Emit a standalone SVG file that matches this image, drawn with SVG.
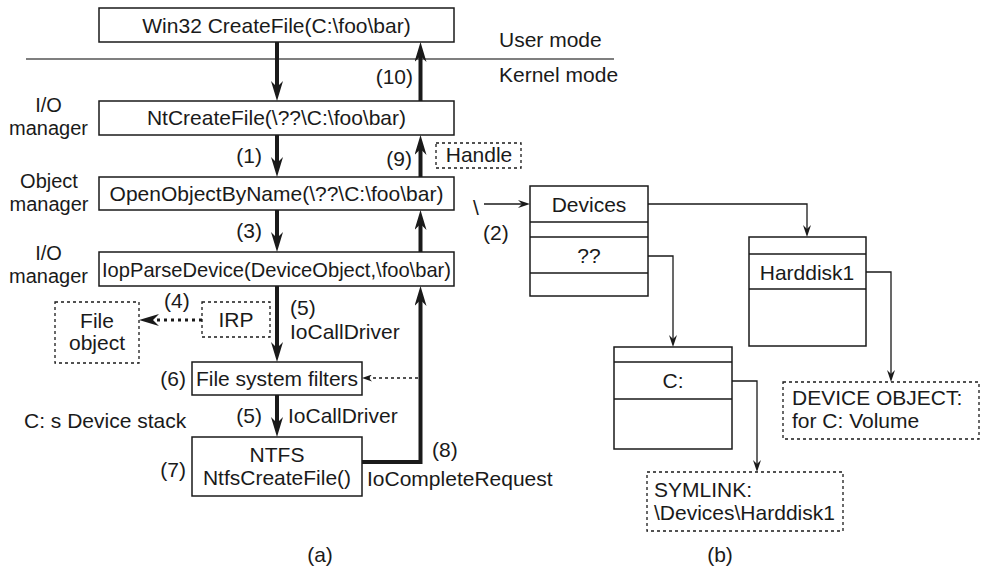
<svg xmlns="http://www.w3.org/2000/svg" width="982" height="570" viewBox="0 0 982 570">
<style>
text{font-family:"Liberation Sans",Arial,Helvetica,sans-serif;font-size:21px;fill:#1a1a1a}
.m{text-anchor:middle}
.e{text-anchor:end}
.side{font-size:20px}
.box{fill:#fff;stroke:#1a1a1a;stroke-width:1.5}
.dbox{fill:none;stroke:#1a1a1a;stroke-width:1.3;stroke-dasharray:3 3}
.row{stroke:#1a1a1a;stroke-width:1.5;fill:none}
.thick{stroke:#1a1a1a;stroke-width:4;fill:none;marker-end:url(#ah)}
.thin{stroke:#1a1a1a;stroke-width:1.3;fill:none;marker-end:url(#at)}
</style>
<defs>
<marker id="ah" markerUnits="userSpaceOnUse" markerWidth="20" markerHeight="12" viewBox="0 0 20 12" refX="6" refY="6" orient="auto"><path d="M0,0 L20,6 L0,12 L6,6 Z" fill="#1a1a1a"/></marker>
<marker id="at" markerUnits="userSpaceOnUse" markerWidth="12" markerHeight="8" viewBox="0 0 12 8" refX="4" refY="4" orient="auto"><path d="M0,0 L12,4 L0,8 L4,4 Z" fill="#1a1a1a"/></marker>
<marker id="as" markerUnits="userSpaceOnUse" markerWidth="10" markerHeight="7" viewBox="0 0 10 7" refX="3" refY="3.5" orient="auto"><path d="M0,0 L10,3.5 L0,7 L3,3.5 Z" fill="#1a1a1a"/></marker>
</defs>
<rect width="982" height="570" fill="#fff"/>

<g id="mode-line">
<line x1="26" y1="59" x2="614" y2="59" stroke="#555" stroke-width="1.6"/>
<text x="499" y="47">User mode</text>
<text x="499" y="82">Kernel mode</text>
</g>

<g id="labels">
<text class="m side" x="48.5" y="112">I/O</text>
<text class="m side" x="48.5" y="135">manager</text>
<text class="m side" x="49" y="188">Object</text>
<text class="m side" x="49" y="211">manager</text>
<text class="m side" x="48.5" y="260">I/O</text>
<text class="m side" x="48.5" y="283">manager</text>
<text x="24" y="428">C: s Device stack</text>
<text class="m" x="320" y="562">(a)</text>
<text class="m" x="720" y="562">(b)</text>
</g>

<g id="win32"><rect class="box" x="99" y="8" width="355" height="34"/><text class="m" x="276.5" y="33">Win32 CreateFile(C:\foo\bar)</text></g>
<g id="ntcreate"><rect class="box" x="99" y="101" width="355" height="34"/><text class="m" x="276.5" y="125">NtCreateFile(\??\C:\foo\bar)</text></g>
<g id="openobj"><rect class="box" x="99" y="177" width="355" height="33"/><text class="m" x="276.5" y="201">OpenObjectByName(\??\C:\foo\bar)</text></g>
<g id="iopparse"><rect class="box" x="99" y="252" width="355" height="34"/><text x="102" y="277" textLength="349" lengthAdjust="spacingAndGlyphs">IopParseDevice(DeviceObject,\foo\bar)</text></g>
<g id="fsfilters"><rect class="box" x="192" y="362" width="170" height="33"/><text class="m" x="277" y="386">File system filters</text></g>
<g id="ntfs"><rect class="box" x="192" y="437" width="170" height="59"/><text class="m" x="277" y="462">NTFS</text><text class="m" x="277" y="485">NtfsCreateFile()</text></g>
<g id="fileobject"><rect class="dbox" x="55" y="302" width="84" height="61"/><text class="m" x="97" y="328">File</text><text class="m" x="97" y="350">object</text></g>
<g id="irp"><rect class="dbox" x="202" y="302" width="68" height="35"/><text class="m" x="236" y="327">IRP</text></g>
<g id="handle"><rect class="dbox" x="436" y="143" width="85" height="25"/><text class="m" x="479" y="162">Handle</text></g>

<g id="devices-dir">
<rect class="box" x="530" y="186" width="118" height="110"/>
<path class="row" d="M530,222H648M530,237H648M530,273H648"/>
<text class="m" x="589" y="212">Devices</text>
<text class="m" x="589" y="263">??</text>
</g>
<g id="harddisk-dir">
<rect class="box" x="749" y="237" width="117" height="109"/>
<path class="row" d="M749,254H866M749,289H866"/>
<text class="m" x="807" y="280">Harddisk1</text>
</g>
<g id="c-dir">
<rect class="box" x="614" y="347" width="118" height="102"/>
<path class="row" d="M614,362H732M614,399H732"/>
<text class="m" x="673" y="388">C:</text>
</g>
<g id="deviceobject"><rect class="dbox" x="783" y="382" width="196" height="57"/><text x="792" y="405">DEVICE OBJECT:</text><text x="792" y="428">for C: Volume</text></g>
<g id="symlink"><rect class="dbox" x="647" y="472" width="196" height="59"/><text x="654" y="497">SYMLINK:</text><text x="654" y="520">\Devices\Harddisk1</text></g>

<g id="connectors">
<line class="thick" x1="277" y1="42" x2="277" y2="87"/>
<line class="thick" x1="420.5" y1="101" x2="420.5" y2="56"/>
<line class="thick" x1="277" y1="135" x2="277" y2="163"/>
<line class="thick" x1="420.5" y1="177" x2="420.5" y2="149"/>
<line class="thick" x1="277" y1="210" x2="277" y2="238"/>
<line class="thick" x1="420.5" y1="252" x2="420.5" y2="224"/>
<line class="thick" x1="277" y1="286" x2="277" y2="348"/>
<line class="thick" x1="277" y1="395" x2="277" y2="423"/>
<polyline class="thick" points="362,462 420.5,462 420.5,300" stroke-linejoin="miter"/>
<line x1="202" y1="320" x2="153" y2="320" stroke="#1a1a1a" stroke-width="3" stroke-dasharray="3 4" marker-end="url(#ah)"/>
<line x1="418" y1="378" x2="369" y2="378" stroke="#1a1a1a" stroke-width="1.3" stroke-dasharray="3 3" marker-end="url(#as)"/>
<line class="thin" x1="484" y1="204" x2="522" y2="204"/>
<polyline class="thin" points="648,204 807,204 807,229"/>
<polyline class="thin" points="648,256 673,256 673,339"/>
<polyline class="thin" points="866,272 891,272 891,374"/>
<polyline class="thin" points="732,381 757,381 757,464"/>
<text class="e" x="413" y="84">(10)</text>
<text class="e" x="262" y="163">(1)</text>
<text class="e" x="412" y="166">(9)</text>
<text class="e" x="262" y="238">(3)</text>
<text x="473" y="215">\</text>
<text x="483" y="240">(2)</text>
<text x="164" y="308">(4)</text>
<text x="290" y="315">(5)</text>
<text x="290" y="339">IoCallDriver</text>
<text class="e" x="186" y="386">(6)</text>
<text class="e" x="262" y="423">(5)</text>
<text x="288" y="423">IoCallDriver</text>
<text class="e" x="186" y="477">(7)</text>
<text x="432" y="457">(8)</text>
<text x="367" y="486">IoCompleteRequest</text>
</g>
</svg>
